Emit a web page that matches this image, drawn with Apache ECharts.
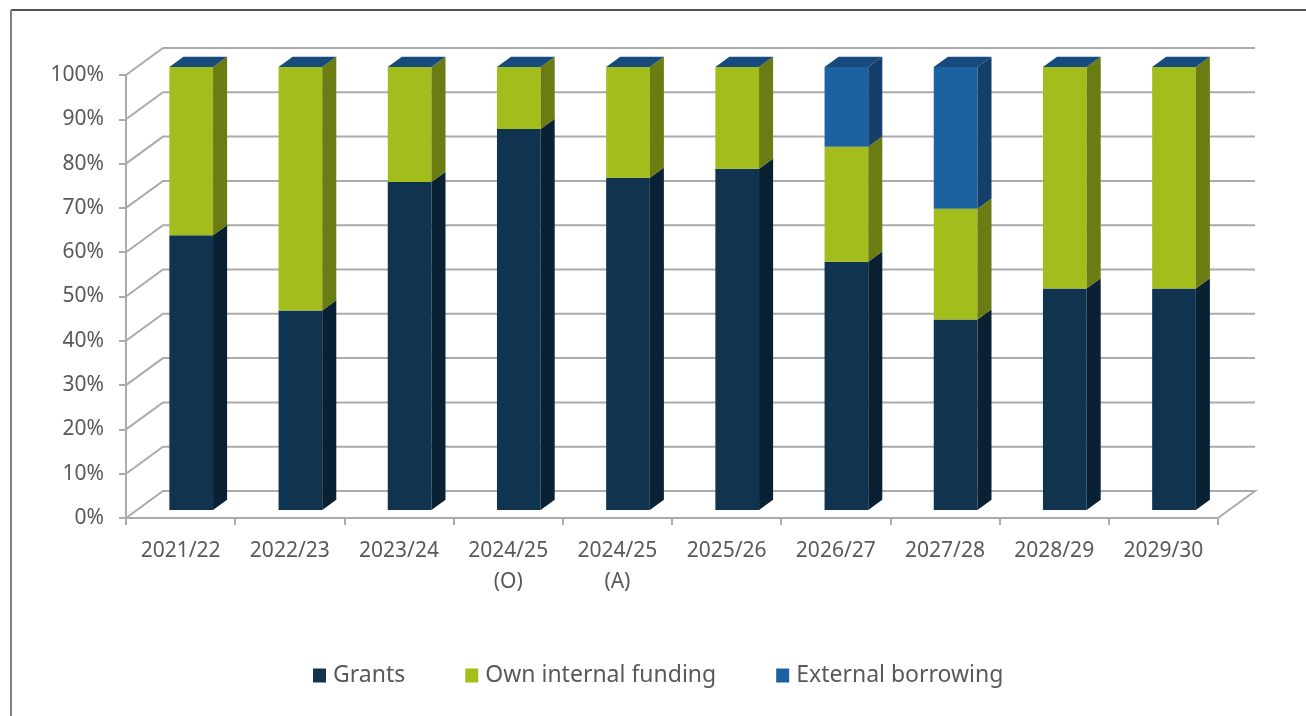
<!DOCTYPE html>
<html>
<head>
<meta charset="utf-8">
<script src="https://cdn.jsdelivr.net/npm/echarts@6/dist/echarts.min.js"></script>
<style>
  html, body { margin: 0; padding: 0; background: #ffffff; }
  #chart { width: 1306px; height: 716px; }
</style>
</head>
<body>
<div id="chart"></div>
<script>
// Capital funding mix by year (percent of total)
const categories = ['2021/22', '2022/23', '2023/24', '2024/25\n(O)', '2024/25\n(A)', '2025/26', '2026/27', '2027/28', '2028/29', '2029/30'];
const grants = [62, 45, 74, 86, 75, 77, 56, 43, 50, 50];
const ownInternalFunding = [38, 55, 26, 14, 25, 23, 26, 25, 50, 50];
const externalBorrowing = [0, 0, 0, 0, 0, 0, 18, 32, 0, 0];
const yTicks = [0, 10, 20, 30, 40, 50, 60, 70, 80, 90, 100];

// Pseudo-3D depth of the plot box (pixels) and where bars sit inside it
const DEPTH_X = 37, DEPTH_Y = -27;
const BAR_FRONT = 0.3, BAR_BACK = 0.68;
const GRID_COLOR = '#ababab';
const TEXT_COLOR = '#595959';
const FONT = 'Noto Sans';

const seriesDefs = [
  { name: 'Grants', values: grants, front: '#10344f', side: '#0a2133' },
  { name: 'Own internal funding', values: ownInternalFunding, front: '#a3bd1c', side: '#6b7c13' },
  { name: 'External borrowing', values: externalBorrowing, front: '#1d62a0', side: '#143f6b', top: '#174a7d' }
];

// cumulative start/end per stacked segment
const running = categories.map(() => 0);
const stacked = seriesDefs.map(def => def.values.map((v, i) => {
  const start = running[i];
  running[i] += v;
  return [i, start, running[i]];
}));

// back wall gridline: front tick -> diagonal -> across the back wall
function wallRender(params, api) {
  const cs = params.coordSys;
  const v = api.value(1);
  const y = api.coord([0, v])[1];
  const x0 = cs.x, x1 = cs.x + cs.width;
  const pts = [[x0, y], [x0 + DEPTH_X, y + DEPTH_Y], [x1 + DEPTH_X, y + DEPTH_Y]];
  if (v === 0) pts.push([x1, y]);
  return {
    type: 'polyline',
    shape: { points: pts },
    style: { stroke: GRID_COLOR, lineWidth: 2, fill: null }
  };
}

// one stacked segment drawn as a box: front face, right side, and (top series) lid
function makeBarRender(def, isTop) {
  return function (params, api) {
    const i = api.value(0);
    const start = api.value(1);
    const end = api.value(2);
    const band = api.size([1, 0])[0];
    const half = band * 0.2;
    const xc = api.coord([i, 0])[0] - 0.5;
    const fx = BAR_FRONT * DEPTH_X, fy = BAR_FRONT * DEPTH_Y;
    const dx = (BAR_BACK - BAR_FRONT) * DEPTH_X, dy = (BAR_BACK - BAR_FRONT) * DEPTH_Y;
    const xl = xc - half + fx, xr = xc + half + fx;
    const yb = api.coord([i, start])[1] + fy;
    const yt = api.coord([i, end])[1] + fy;
    const children = [];
    if (end > start) {
      children.push({
        type: 'rect',
        shape: { x: xl, y: yt, width: xr - xl, height: yb - yt },
        style: { fill: def.front }
      });
      children.push({
        type: 'polygon',
        shape: { points: [[xr, yt], [xr + dx, yt + dy], [xr + dx, yb + dy], [xr, yb]] },
        style: { fill: def.side }
      });
    }
    if (isTop) {
      children.push({
        type: 'polygon',
        shape: { points: [[xl, yt], [xr, yt], [xr + dx, yt + dy], [xl + dx, yt + dy]] },
        style: { fill: def.top }
      });
    }
    return { type: 'group', children: children };
  };
}

const chart = echarts.init(document.getElementById('chart'), null, { renderer: 'canvas' });

const series = [{
  name: 'wall',
  type: 'custom',
  data: yTicks.map(v => [0, v]),
  renderItem: wallRender,
  clip: false,
  silent: true,
  z: 1
}].concat(seriesDefs.map((def, k) => ({
  name: def.name,
  type: 'custom',
  data: stacked[k],
  encode: { x: 0, y: [1, 2] },
  renderItem: makeBarRender(def, k === seriesDefs.length - 1),
  itemStyle: { color: def.front },
  clip: false,
  silent: true,
  z: 3 + k
})));

chart.setOption({
  animation: false,
  backgroundColor: '#ffffff',
  textStyle: { fontFamily: FONT },
  grid: { left: 126, right: 88, top: 75, bottom: 198 },
  xAxis: {
    type: 'category',
    data: categories,
    boundaryGap: true,
    axisLine: { lineStyle: { color: GRID_COLOR, width: 2 } },
    axisTick: { show: true, length: 7, lineStyle: { color: GRID_COLOR, width: 2 } },
    axisLabel: { color: TEXT_COLOR, fontSize: 21, fontFamily: FONT, margin: 18, lineHeight: 31, interval: 0 },
    splitLine: { show: false }
  },
  yAxis: {
    type: 'value',
    min: 0,
    max: 100,
    interval: 10,
    axisLine: { show: true, lineStyle: { color: GRID_COLOR, width: 2 } },
    axisTick: { show: true, length: 7, lineStyle: { color: GRID_COLOR, width: 2 } },
    axisLabel: { color: TEXT_COLOR, fontSize: 21, fontFamily: FONT, margin: 22, formatter: '{value}%' },
    splitLine: { show: false }
  },
  legend: {
    data: seriesDefs.map(d => d.name),
    top: 659,
    left: 308,
    icon: 'rect',
    itemWidth: 13,
    itemHeight: 14,
    itemGap: 60,
    textStyle: { color: TEXT_COLOR, fontSize: 23, fontFamily: FONT, padding: [0, 0, 0, 2] }
  },
  graphic: [
    { type: 'line', shape: { x1: 11, y1: 10, x2: 1306, y2: 10 }, style: { stroke: '#1a1a1a', lineWidth: 1.5 } },
    { type: 'line', shape: { x1: 11, y1: 10, x2: 11, y2: 716 }, style: { stroke: '#7f7f7f', lineWidth: 2 } }
  ],
  series: series
});
</script>
</body>
</html>
